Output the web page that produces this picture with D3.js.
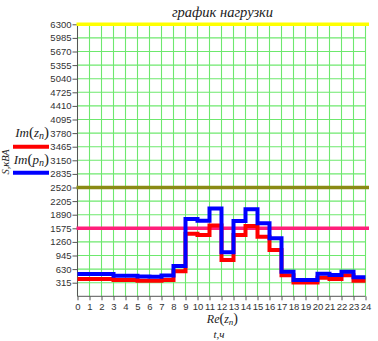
<!DOCTYPE html>
<html>
<head>
<meta charset="utf-8">
<script src="https://cdn.jsdelivr.net/npm/d3@7"></script>
<style>
  html, body { margin: 0; padding: 0; background: #fff; }
  svg { display: block; }
</style>
</head>
<body>
<svg id="chart" width="378" height="341"></svg>
<script>
// Hourly load schedule, hours 0..23
const hours = d3.range(0, 24);
const zLoad = [400, 400, 400, 377, 377, 362, 362, 377, 580, 1450, 1420, 1640, 840, 1420, 1630, 1380, 1075, 490, 320, 320, 430, 400, 490, 362];
const pLoad = [515, 515, 515, 475, 475, 460, 455, 480, 700, 1790, 1750, 2035, 1020, 1745, 2015, 1690, 1343, 570, 380, 380, 520, 495, 570, 440];

// Reference levels
const levelValues = [6300, 2520, 1575];
const levelColors = ["#ffff00", "#8a8a14", "#ff1f7a"];

// Tick labels
const yTicks = d3.range(315, 6301, 315);
const xTicks = d3.range(0, 25, 1);

const titleText = "график нагрузки";
const yLabel = "S,кВА";

const svg = d3.select("#chart");
const x = d3.scaleLinear().domain([0, 24]).range([77.5, 365.5]);
const y = d3.scaleLinear().domain([0, 6300]).range([296.3, 24.3]);

// grid
const grid = svg.append("g");
grid.selectAll("line.v").data(xTicks).join("line")
  .attr("x1", d => x(d)).attr("x2", d => x(d))
  .attr("y1", y(0)).attr("y2", y(6300))
  .attr("stroke", "#6ee86e").attr("stroke-width", 1.1);
grid.selectAll("line.h").data(yTicks).join("line")
  .attr("x1", x(0)).attr("x2", x(24))
  .attr("y1", d => y(d)).attr("y2", d => y(d))
  .attr("stroke", "#6ee86e").attr("stroke-width", 1.1);

// axes
const yAxis = d3.axisLeft(y).tickValues(yTicks).tickSize(5).tickPadding(1).tickFormat(d3.format("d"));
const gy = svg.append("g").attr("transform", `translate(${x(0)},0)`).call(yAxis);
const xAxis = d3.axisBottom(x).tickValues(xTicks).tickSize(4).tickPadding(3).tickFormat(d3.format("d"));
const gx = svg.append("g").attr("transform", `translate(0,${y(0)})`).call(xAxis);
[gy, gx].forEach(g => {
  g.select(".domain").attr("stroke", "#555").attr("stroke-width", 1);
  g.selectAll(".tick line").attr("stroke", "#555");
  g.selectAll(".tick text").attr("fill", "#333")
    .style("font-family", "Liberation Sans, Arial, sans-serif").style("font-size", "9.5px");
});
gy.select(".domain").attr("d", `M-0,${y(0)}V${y(6300)}`);
gx.select(".domain").attr("d", `M${x(0)},0H${x(24)}`);

// reference levels
svg.append("g").selectAll("line").data(levelValues).join("line")
  .attr("x1", x(0) - 1).attr("x2", x(24) + 3.5)
  .attr("y1", d => y(d)).attr("y2", d => y(d))
  .attr("stroke", (d, i) => levelColors[i]).attr("stroke-width", 3.5);

// step traces
const stepLine = d3.line()
  .x(d => x(d[0])).y(d => y(d[1]))
  .curve(d3.curveStepAfter);
function steps(values) {
  const pts = hours.map((h, i) => [h, values[i]]);
  pts.push([24, values[values.length - 1]]);
  return pts;
}
svg.append("path").attr("d", stepLine(steps(zLoad)))
  .attr("fill", "none").attr("stroke", "#ff0000").attr("stroke-width", 4);
svg.append("path").attr("d", stepLine(steps(pLoad)))
  .attr("fill", "none").attr("stroke", "#0000ff").attr("stroke-width", 4);

// title
svg.append("text").attr("x", (x(0) + x(24)) / 2 + 1).attr("y", 17)
  .attr("text-anchor", "middle")
  .style("font-family", "Liberation Serif, Times New Roman, serif")
  .style("font-style", "italic").style("font-size", "14.5px").attr("fill", "#222")
  .text(titleText);

// y axis label
svg.append("text").attr("transform", "translate(9,162) rotate(-90)")
  .attr("text-anchor", "middle")
  .style("font-family", "Liberation Serif, Times New Roman, serif")
  .style("font-style", "italic").style("font-size", "10.5px").attr("fill", "#222")
  .text(yLabel);

// math-style labels such as Im(z_n)
function mathLabel(g, xr, yb, fn, arg, size) {
  const t = g.append("text").attr("x", xr).attr("y", yb).attr("text-anchor", "end")
    .style("font-family", "Liberation Serif, Times New Roman, serif")
    .style("font-size", size + "px").attr("fill", "#222");
  t.append("tspan").style("font-style", "italic").text(fn);
  t.append("tspan").style("font-size", (size + 2) + "px").text("(");
  t.append("tspan").style("font-style", "italic").text(arg);
  t.append("tspan").style("font-style", "italic").style("font-size", (size - 3) + "px").attr("dy", 2).text("n");
  t.append("tspan").attr("dy", -2).style("font-size", (size + 2) + "px").text(")");
  return t;
}
const legend = svg.append("g");
const legendItems = [
  { fn: "Im", arg: "z", color: "#ff0000", textY: 137, lineY: 146.7 },
  { fn: "Im", arg: "p", color: "#0000ff", textY: 164, lineY: 172.7 }
];
legendItems.forEach(it => {
  mathLabel(legend, 49, it.textY, it.fn, it.arg, 13);
  legend.append("line").attr("x1", 13).attr("x2", 49)
    .attr("y1", it.lineY).attr("y2", it.lineY)
    .attr("stroke", it.color).attr("stroke-width", 4);
});

// x axis label
mathLabel(svg, 238, 323, "Re", "z", 12);
svg.append("text").attr("x", 219).attr("y", 338).attr("text-anchor", "middle")
  .style("font-family", "Liberation Serif, Times New Roman, serif")
  .style("font-style", "italic").style("font-size", "11px").attr("fill", "#222")
  .text("t,ч");
</script>
</body>
</html>
